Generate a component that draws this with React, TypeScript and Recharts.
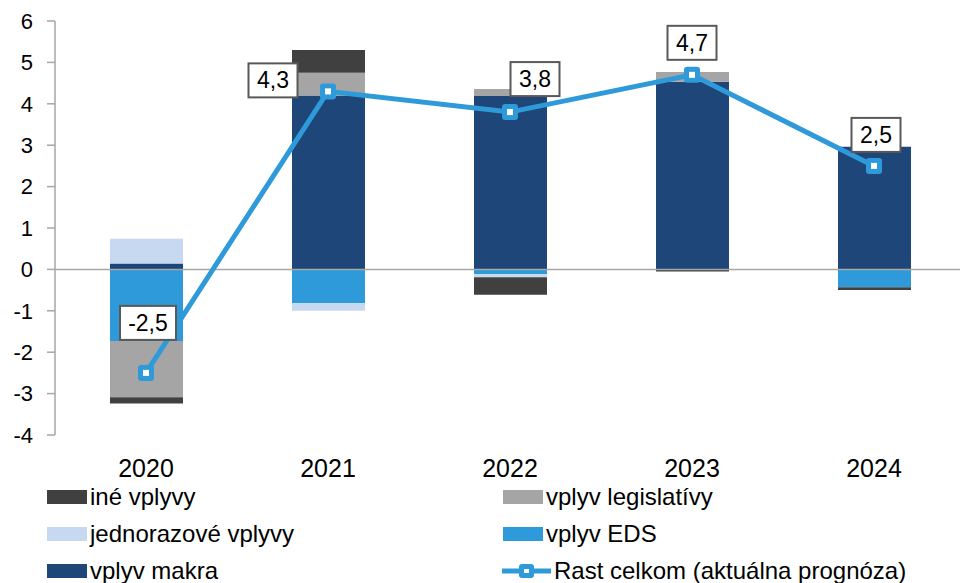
import React from 'react';
import { ComposedChart, Bar, Line, XAxis, YAxis, ReferenceLine, LabelList } from 'recharts';

const years = ['2020', '2021', '2022', '2023', '2024'];
const ine = [-0.15, 0.55, -0.42, -0.05, -0.07];
const legislativa = [-1.36, 0.55, 0.17, 0.24, 0];
const jednorazove = [0.6, -0.18, -0.07, 0, 0];
const eds = [-1.73, -0.82, -0.12, 0, -0.43];
const makra = [0.14, 4.2, 4.19, 4.53, 2.96];
const rast = [-2.5, 4.3, 3.8, 4.7, 2.5];
const yTicks = [-4, -3, -2, -1, 0, 1, 2, 3, 4, 5, 6];

const COLORS = {
  ine: '#404040',
  legislativa: '#a5a5a5',
  jednorazove: '#c6d9f0',
  eds: '#2e9ad9',
  makra: '#1f4678',
  rast: '#2e9ad9',
};

const data = years.map((year, i) => ({
  year,
  ine: ine[i],
  legislativa: legislativa[i],
  jednorazove: jednorazove[i],
  eds: eds[i],
  makra: makra[i],
  rast: rast[i],
}));

// label box offsets from the line point, per year
const labelOffsets = [
  { dx: 2, dy: -50 },
  { dx: -55, dy: -11 },
  { dx: 25, dy: -33 },
  { dx: 0, dy: -32 },
  { dx: 2, dy: -31 },
];

const FONT = '"Liberation Sans", Arial, sans-serif';

const Marker = (props: any) => {
  const { cx, cy } = props;
  if (cx == null || cy == null) return null;
  return (
    <g>
      <rect x={cx - 8} y={cy - 8} width={16} height={16} rx={3} fill={COLORS.rast} />
      <rect x={cx - 3} y={cy - 3} width={6} height={6} fill="#fff" />
    </g>
  );
};

const ValueLabel = (props: any) => {
  const { x, y, index, value } = props;
  const off = labelOffsets[index] || { dx: 0, dy: -30 };
  const text = Number(value).toFixed(1).replace('.', ',');
  const w = text.length > 3 ? 56 : 49;
  const h = 34;
  const cx = x + off.dx;
  const cy = y + off.dy;
  return (
    <g>
      <rect x={cx - w / 2} y={cy - h / 2} width={w} height={h} fill="#fff" stroke="#595959" strokeWidth={2} />
      <text x={cx} y={cy + 8} textAnchor="middle" fontSize={23} fontFamily={FONT} fill="#000">
        {text}
      </text>
    </g>
  );
};

const legendItems = [
  { name: 'iné vplyvy', color: COLORS.ine, type: 'rect' },
  { name: 'vplyv legislatívy', color: COLORS.legislativa, type: 'rect' },
  { name: 'jednorazové vplyvy', color: COLORS.jednorazove, type: 'rect' },
  { name: 'vplyv EDS', color: COLORS.eds, type: 'rect' },
  { name: 'vplyv makra', color: COLORS.makra, type: 'rect' },
  { name: 'Rast celkom (aktuálna prognóza)', color: COLORS.rast, type: 'line' },
];

const ChartLegend = () => (
  <div
    style={{
      position: 'absolute',
      left: 47,
      top: 481,
      width: 900,
      display: 'grid',
      gridTemplateColumns: '456px 440px',
      rowGap: 5,
      fontFamily: FONT,
      fontSize: 24,
      color: '#000',
    }}
  >
    {legendItems.map((item, i) => (
      <div key={i} style={{ display: 'flex', alignItems: 'center', height: 32 }}>
        {item.type === 'rect' ? (
          <div style={{ width: 40, height: 14, backgroundColor: item.color, marginRight: 3 }} />
        ) : (
          <svg width={49} height={20} style={{ marginRight: 3, marginLeft: -1 }}>
            <line x1={0} y1={10} x2={49} y2={10} stroke={item.color} strokeWidth={5} />
            <rect x={17} y={3} width={15} height={14} rx={3} fill={item.color} />
            <rect x={22} y={8} width={5} height={4} fill="#fff" />
          </svg>
        )}
        <span>{item.name}</span>
      </div>
    ))}
  </div>
);

const App: React.FC = () => {
  return (
    <div
      style={{
        position: 'absolute',
        left: 0,
        top: 0,
        width: 960,
        height: 583,
        overflow: 'hidden',
        background: '#fff',
      }}
    >
      <ComposedChart
        width={975}
        height={583}
        data={data}
        stackOffset="sign"
        margin={{ top: 21, right: 10, bottom: 108, left: 0 }}
      >
        <XAxis
          dataKey="year"
          axisLine={false}
          tickLine={false}
          height={40}
          tickMargin={18}
          tick={{ fontSize: 25, fontFamily: FONT, fill: '#000' }}
        />
        <YAxis
          domain={[-4, 6]}
          ticks={yTicks}
          width={55}
          interval={0}
          tickSize={8}
          tickMargin={14}
          axisLine={{ stroke: '#a6a6a6', strokeWidth: 1.5 }}
          tickLine={{ stroke: '#a6a6a6', strokeWidth: 1.5 }}
          tick={{ fontSize: 22, fontFamily: FONT, fill: '#000' }}
        />
        <ReferenceLine y={0} stroke="#a6a6a6" strokeWidth={1.5} />
        <Bar dataKey="makra" stackId="a" fill={COLORS.makra} barSize={73} isAnimationActive={false} />
        <Bar dataKey="eds" stackId="a" fill={COLORS.eds} barSize={73} isAnimationActive={false} />
        <Bar dataKey="jednorazove" stackId="a" fill={COLORS.jednorazove} barSize={73} isAnimationActive={false} />
        <Bar dataKey="legislativa" stackId="a" fill={COLORS.legislativa} barSize={73} isAnimationActive={false} />
        <Bar dataKey="ine" stackId="a" fill={COLORS.ine} barSize={73} isAnimationActive={false} />
        <Line
          dataKey="rast"
          stroke={COLORS.rast}
          strokeWidth={5}
          dot={<Marker />}
          activeDot={false}
          isAnimationActive={false}
        >
          <LabelList dataKey="rast" content={<ValueLabel />} />
        </Line>
      </ComposedChart>
      <ChartLegend />
    </div>
  );
};

export default App;
